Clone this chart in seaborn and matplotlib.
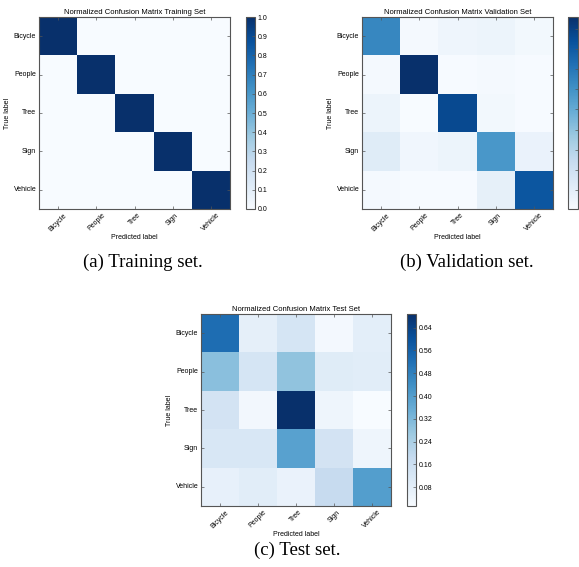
import numpy as np
import pandas as pd
import seaborn as sns
import matplotlib.pyplot as plt

labels = ['Bicycle', 'People', 'Tree', 'Sign', 'Vehicle']

train_vals = [
    [1.0, 0.0, 0.0, 0.0, 0.0],
    [0.0, 1.0, 0.0, 0.0, 0.0],
    [0.0, 0.0, 1.0, 0.0, 0.0],
    [0.0, 0.0, 0.0, 1.0, 0.0],
    [0.0, 0.0, 0.0, 0.0, 1.0],
]

val_vals = [
    [0.64, 0.02, 0.05, 0.06, 0.03],
    [0.02, 0.96, 0.01, 0.02, 0.01],
    [0.06, 0.005, 0.87, 0.03, 0.01],
    [0.12, 0.04, 0.06, 0.58, 0.07],
    [0.02, 0.01, 0.01, 0.09, 0.82],
]

test_vals = [
    [0.53, 0.075, 0.13, 0.028, 0.08],
    [0.30, 0.13, 0.29, 0.095, 0.09],
    [0.14, 0.034, 0.688, 0.048, 0.014],
    [0.12, 0.12, 0.39, 0.14, 0.045],
    [0.07, 0.09, 0.06, 0.18, 0.40],
]

titles = ['Normalized Confusion Matrix Training Set',
          'Normalized Confusion Matrix Validation Set',
          'Normalized Confusion Matrix Test Set']
captions = ['(a) Training set.', '(b) Validation set.', '(c) Test set.']

W, H = 579, 567
plt.rcParams['font.family'] = ['Liberation Sans', 'DejaVu Sans']
fig = plt.figure(figsize=(W / 100, H / 100), dpi=100)


def box(x0, y0, x1, y1):
    return [x0 / W, 1 - y1 / H, (x1 - x0) / W, (y1 - y0) / H]


# pixel boxes: (axes, colorbar, caption centre)
panels = [
    (box(39, 17, 230, 209), box(246, 17, 255, 209), (143, 262)),
    (box(362, 17, 553, 209), box(568, 17, 578, 209), (467, 262)),
    (box(201, 314, 391, 506), box(407, 314, 416, 506), (297, 550)),
]
datasets = [train_vals, val_vals, test_vals]
cbar_ticks = [np.arange(0, 1.01, 0.1), np.arange(0.1, 1.0, 0.1), np.arange(0.08, 0.65, 0.08)]
cbar_fmt = ['%.1f', '%.1f', '%.2f']
edge = '#555555'

for i, (abox, cbox, cap) in enumerate(panels):
    ax = fig.add_axes(abox)
    cax = fig.add_axes(cbox)
    df = pd.DataFrame(datasets[i], index=labels, columns=labels)
    sns.heatmap(df, ax=ax, cbar_ax=cax, cmap='Blues',
                cbar_kws={'ticks': cbar_ticks[i], 'format': cbar_fmt[i]})
    for s in ax.spines.values():
        s.set_visible(True)
        s.set_color(edge)
        s.set_linewidth(0.8)
    ax.tick_params(direction='in', length=2.5, width=0.5, color=edge,
                   top=True, right=True, labelsize=5, pad=2)
    ax.set_xticklabels(labels, rotation=45, ha='center', fontsize=5)
    ax.set_yticklabels(labels, rotation=0, fontsize=5)
    ax.set_xlabel('Predicted label', fontsize=5, labelpad=1)
    ax.set_ylabel('True label', fontsize=5, labelpad=2)
    ax.set_title(titles[i], fontsize=5.5, pad=2)

    cbar = ax.collections[0].colorbar
    cbar.outline.set_visible(True)
    cbar.outline.set_edgecolor(edge)
    cbar.outline.set_linewidth(0.8)
    cax.tick_params(direction='in', length=2.5, width=0.5, color=edge,
                    labelsize=5, pad=2)
    if i == 1:
        # validation colorbar is cut by the page edge: labels fall outside
        cax.tick_params(labelright=False)

    fig.text(cap[0] / W, 1 - cap[1] / H, captions[i], ha='center', va='center',
             fontsize=13.5, family='Liberation Serif')

fig.savefig('out.png', dpi=100)
